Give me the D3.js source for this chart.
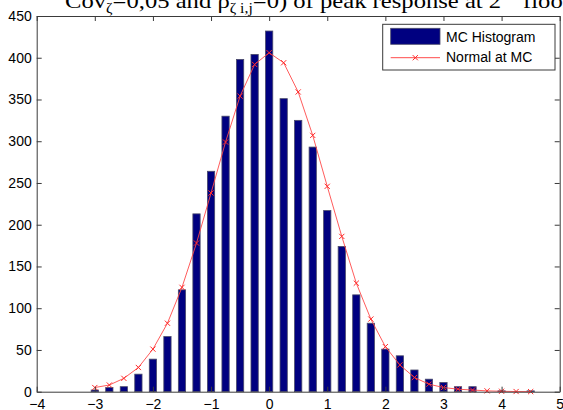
<!DOCTYPE html>
<html>
<head>
<meta charset="utf-8">
<script src="https://cdn.jsdelivr.net/npm/d3@7"></script>
<style>
  html, body { margin: 0; padding: 0; background: #fff; }
  svg { display: block; }
</style>
</head>
<body>
<svg id="chart" width="563" height="410"></svg>
<script>
// ---- data ----
const binCenters = [-3, -2.75, -2.5, -2.25, -2, -1.75, -1.5, -1.25, -1, -0.75, -0.5, -0.25, 0,
  0.25, 0.5, 0.75, 1, 1.25, 1.5, 1.75, 2, 2.25, 2.5, 2.75, 3, 3.25, 3.5, 3.75, 4, 4.25, 4.5];
const histCounts = [2, 5, 6, 21, 39, 66, 122, 213, 264, 330, 398, 404, 432,
  351, 325, 293, 217, 174, 116, 82, 51, 43, 26, 15, 11, 6, 6, 0, 1, 0, 1];
const normalFit = [5, 8, 16, 29, 51, 82, 125, 178, 238, 299, 354, 392, 406,
  394, 359, 307, 246, 186, 130, 87, 54, 32, 17, 9, 5, 3, 2, 1, 0.5, 0.2, 0.1];
const xTicks = [-4, -3, -2, -1, 0, 1, 2, 3, 4, 5];
const yTicks = [0, 50, 100, 150, 200, 250, 300, 350, 400, 450];
const legendLabels = ["MC Histogram", "Normal at MC"];

// ---- layout ----
const svg = d3.select("#chart");
const pL = 36.7, pR = 559.7, pT = 16, pB = 391.7;
const x = d3.scaleLinear().domain([-4, 5]).range([pL, pR]);
const y = d3.scaleLinear().domain([0, 450]).range([pB, pT]);
const axisColor = "#3a3a3a";
const tickFont = "Liberation Sans, Arial, sans-serif";

// title (cut off at top)
const title = svg.append("text")
  .attr("transform", "translate(65,7.5) scale(1.12,1)")
  .attr("font-family", "Liberation Serif, Times New Roman, serif")
  .attr("font-size", 22)
  .attr("fill", "#000");
title.append("tspan").text("Cov");
title.append("tspan").attr("dy", 5).attr("font-size", 14).text("ζ");
title.append("tspan").attr("dy", -5).text("=0,05 and ρ");
title.append("tspan").attr("dy", 5).attr("font-size", 14).text("ζ i,j");
title.append("tspan").attr("dy", -5).text("=0) of peak response at 2");
title.append("tspan").attr("dy", -8).attr("font-size", 14).text("nd");
title.append("tspan").attr("dy", 8).text(" floor");

// bars
const binW = 0.25;
const barW = (x(binW) - x(0)) * 0.5;
svg.append("g").selectAll("rect")
  .data(binCenters.map((c, i) => ({c, v: histCounts[i]})).filter(d => d.v > 0))
  .join("rect")
  .attr("x", d => x(d.c) - barW / 2)
  .attr("y", d => y(d.v))
  .attr("width", barW)
  .attr("height", d => y(0) - y(d.v))
  .attr("fill", "#000080")
  .attr("stroke", "#4a4a6a")
  .attr("stroke-width", 0.8);

// normal line
const pts = binCenters.map((c, i) => [c, normalFit[i]]);
svg.append("path")
  .datum(pts)
  .attr("d", d3.line().x(d => x(d[0])).y(d => y(d[1])))
  .attr("fill", "none")
  .attr("stroke", "#ff4a4a")
  .attr("stroke-width", 1)
  .attr("stroke-opacity", 0.9);
const xm = 2.6;
const markers = svg.append("g").attr("stroke", "#ff2a2a").attr("stroke-width", 1);
markers.selectAll("path").data(pts).join("path")
  .attr("d", d => {
    const px = x(d[0]), py = y(d[1]);
    return `M${px - xm},${py - xm}L${px + xm},${py + xm}M${px - xm},${py + xm}L${px + xm},${py - xm}`;
  });

// axes (MATLAB-style box, ticks inside)
function styleAxis(g) {
  g.selectAll(".domain").attr("stroke", axisColor);
  g.selectAll(".tick line").attr("stroke", axisColor);
  g.selectAll(".tick text").attr("fill", "#000").attr("font-family", tickFont).attr("font-size", 14);
}
svg.append("g").attr("transform", `translate(0,${pB})`)
  .call(d3.axisBottom(x).tickValues(xTicks).tickSize(-5).tickPadding(7).tickSizeOuter(0).tickFormat(d3.format("d")))
  .call(styleAxis);
svg.append("g").attr("transform", `translate(0,${pT})`)
  .call(d3.axisTop(x).tickValues(xTicks).tickSize(-5).tickSizeOuter(0).tickFormat(""))
  .call(styleAxis);
svg.append("g").attr("transform", `translate(${pL},0)`)
  .call(d3.axisLeft(y).tickValues(yTicks).tickSize(-5).tickPadding(5).tickSizeOuter(0).tickFormat(d3.format("d")))
  .call(styleAxis);
svg.append("g").attr("transform", `translate(${pR},0)`)
  .call(d3.axisRight(y).tickValues(yTicks).tickSize(-5).tickSizeOuter(0).tickFormat(""))
  .call(styleAxis);

// legend
const lg = svg.append("g");
lg.append("rect").attr("x", 382.7).attr("y", 24.3).attr("width", 172.3).attr("height", 45.7)
  .attr("fill", "#fff").attr("stroke", axisColor).attr("stroke-width", 1);
lg.append("rect").attr("x", 390.7).attr("y", 28.3).attr("width", 49.3).attr("height", 16)
  .attr("fill", "#000080").attr("stroke", "#4a4a6a").attr("stroke-width", 0.8);
lg.append("line").attr("x1", 390.7).attr("x2", 440).attr("y1", 57.7).attr("y2", 57.7)
  .attr("stroke", "#ff4a4a").attr("stroke-width", 1);
lg.append("path")
  .attr("d", `M${415.3 - xm},${57.7 - xm}L${415.3 + xm},${57.7 + xm}M${415.3 - xm},${57.7 + xm}L${415.3 + xm},${57.7 - xm}`)
  .attr("stroke", "#ff2a2a").attr("stroke-width", 1);
lg.selectAll("text.lab").data(legendLabels).join("text")
  .attr("class", "lab")
  .attr("x", 446)
  .attr("y", (d, i) => i === 0 ? 41.5 : 62)
  .attr("font-family", tickFont)
  .attr("font-size", 14)
  .attr("fill", "#000")
  .text(d => d);
</script>
</body>
</html>
